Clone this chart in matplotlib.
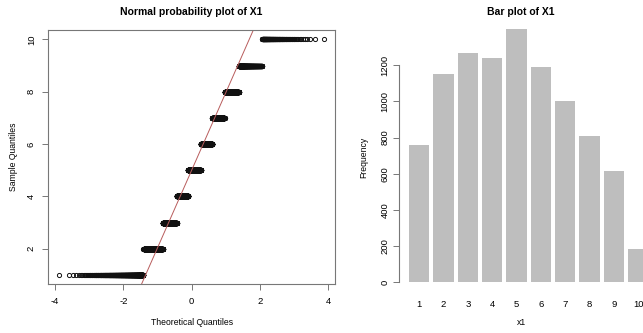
import numpy as np
import matplotlib
matplotlib.use('Agg')
import matplotlib.pyplot as plt
from statistics import NormalDist

# counts of each value of X1
levels = [1, 2, 3, 4, 5, 6, 7, 8, 9, 10]
counts = [759, 1149, 1266, 1242, 1399, 1189, 1003, 810, 615, 186]
x_ticks_qq = [-4, -2, 0, 2, 4]
y_ticks_qq = [2, 4, 6, 8, 10]
y_ticks_bar = [0, 200, 400, 600, 800, 1000, 1200]

plt.rcParams['font.family'] = ['Liberation Sans', 'DejaVu Sans']

# sample and theoretical quantiles (R's ppoints, a = 0.5)
sample = np.repeat(levels, counts)
n = len(sample)
nd = NormalDist()
probs = (np.arange(1, n + 1) - 0.5) / n
theo = np.array([nd.inv_cdf(p) for p in probs])

# qqline through the first and third quartiles
q1, q3 = np.quantile(sample, [0.25, 0.75])
z1, z3 = nd.inv_cdf(0.25), nd.inv_cdf(0.75)
slope = (q3 - q1) / (z3 - z1)
intercept = q1 - slope * z1

W, H = 643, 333
fig = plt.figure(figsize=(W / 100, H / 100), dpi=100)

def px_axes(left, top, right, bottom):
    return fig.add_axes([left / W, 1 - bottom / H, (right - left) / W, (bottom - top) / H])

edge = '#777777'
tick_fs = 6.8
lab_fs = 6.2
title_fs = 7.5

# --- QQ plot ---
ax1 = px_axes(48.3, 30, 335, 284.3)
ax1.plot(theo, sample, 'o', mfc='none', mec='#111111', ms=3.0, mew=0.7)
xl = np.array([-4.2, 4.2])
ax1.plot(xl, intercept + slope * xl, color='#b85c5c', lw=0.7)
ax1.set_xlim(-4.2, 4.2)
ax1.set_ylim(0.64, 10.36)
ax1.set_xticks(x_ticks_qq)
ax1.set_yticks(y_ticks_qq)
ax1.set_xticklabels([str(t) for t in x_ticks_qq], fontsize=tick_fs)
ax1.set_yticklabels([str(t) for t in y_ticks_qq], fontsize=tick_fs, rotation=90, va='center')
ax1.tick_params(length=4, width=0.7, color=edge, pad=5)
for s in ax1.spines.values():
    s.set_color(edge)
    s.set_linewidth(0.8)
ax1.set_title('Normal probability plot of X1', fontsize=title_fs, fontweight='bold', pad=11)
ax1.set_xlabel('Theoretical Quantiles', fontsize=lab_fs, labelpad=9)
ax1.set_ylabel('Sample Quantiles', fontsize=lab_fs, labelpad=6)

# --- bar plot ---
ax2 = px_axes(399.3, 30, 643, 284.3)
pos = 0.7 + 1.2 * np.arange(len(levels))
ax2.bar(pos, counts, width=1.0, color='#bebebe', edgecolor='none', clip_on=False)
ax2.set_xlim(-0.272, -0.272 + (643 - 399.3) / 20.3)
ax2.set_ylim(-11, 1395)
ax2.set_xticks(pos)
ax2.set_xticklabels([str(v) for v in levels], fontsize=tick_fs)
ax2.tick_params(axis='x', length=0, pad=11)
ax2.set_yticks(y_ticks_bar)
ax2.set_yticklabels([str(t) for t in y_ticks_bar], fontsize=tick_fs, rotation=90, va='center')
ax2.tick_params(axis='y', length=4, width=0.7, color=edge, pad=3)
for k in ['top', 'right', 'bottom']:
    ax2.spines[k].set_visible(False)
ax2.spines['left'].set_bounds(0, 1200)
ax2.spines['left'].set_color(edge)
ax2.spines['left'].set_linewidth(0.8)
ax2.set_title('Bar plot of X1', fontsize=title_fs, fontweight='bold', pad=11)
ax2.set_xlabel('x1', fontsize=lab_fs, labelpad=7)
ax2.set_ylabel('Frequency', fontsize=lab_fs, labelpad=9)

fig.savefig('out.png', dpi=100)
